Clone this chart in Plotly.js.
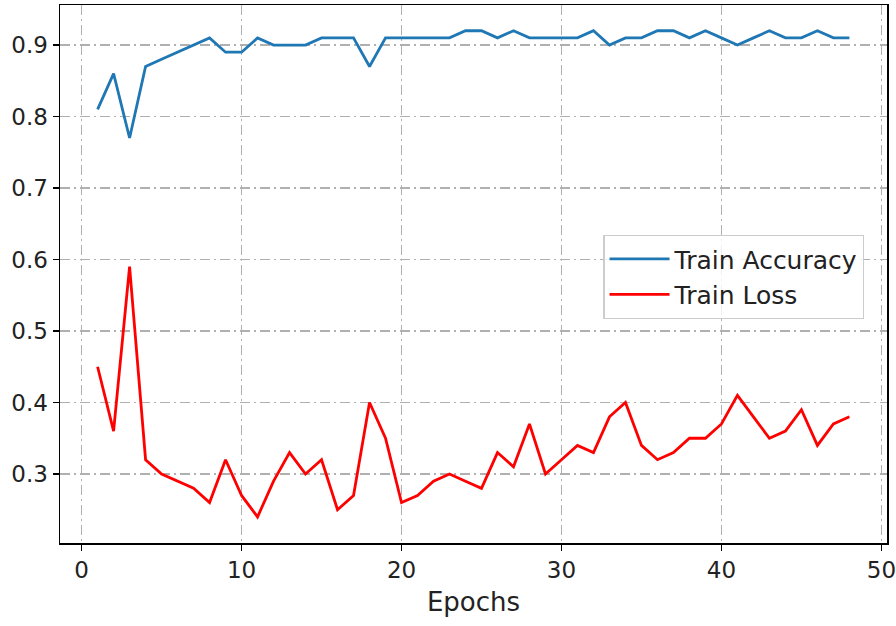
<!DOCTYPE html>
<html>
<head>
<meta charset="utf-8">
<script src="https://cdn.plot.ly/plotly-3.0.1.min.js"></script>
<style>
html,body{margin:0;padding:0;background:#fff;}
#chart{width:896px;height:626px;}
</style>
</head>
<body>
<div id="chart"></div>
<script>
const epochs = [1,2,3,4,5,6,7,8,9,10,11,12,13,14,15,16,17,18,19,20,21,22,23,24,25,26,27,28,29,30,31,32,33,34,35,36,37,38,39,40,41,42,43,44,45,46,47,48];
const trainAccuracy = [0.81,0.86,0.77,0.87,0.88,0.89,0.90,0.91,0.89,0.89,0.91,0.90,0.90,0.90,0.91,0.91,0.91,0.87,0.91,0.91,0.91,0.91,0.91,0.92,0.92,0.91,0.92,0.91,0.91,0.91,0.91,0.92,0.90,0.91,0.91,0.92,0.92,0.91,0.92,0.91,0.90,0.91,0.92,0.91,0.91,0.92,0.91,0.91];
const trainLoss = [0.45,0.36,0.59,0.32,0.30,0.29,0.28,0.26,0.32,0.27,0.24,0.29,0.33,0.30,0.32,0.25,0.27,0.40,0.35,0.26,0.27,0.29,0.30,0.29,0.28,0.33,0.31,0.37,0.30,0.32,0.34,0.33,0.38,0.40,0.34,0.32,0.33,0.35,0.35,0.37,0.41,0.38,0.35,0.36,0.39,0.34,0.37,0.38];
const xTicks = [0,10,20,30,40,50];
const yTicks = [0.3,0.4,0.5,0.6,0.7,0.8,0.9];
const seriesNames = ["Train Accuracy","Train Loss"];

const FONT = "DejaVu Sans, sans-serif";

const traces = [
  {x: epochs, y: trainAccuracy, name: seriesNames[0], mode: "lines",
   line: {color: "#1f77b4", width: 2.8}},
  {x: epochs, y: trainLoss, name: seriesNames[1], mode: "lines",
   line: {color: "#ff0000", width: 2.8}}
];

const axisCommon = {
  showline: true, mirror: true, linecolor: "#000", linewidth: 1.5,
  ticks: "outside", ticklen: 6, tickwidth: 1.3, tickcolor: "#000",
  showgrid: true, gridcolor: "#b0b0b0", gridwidth: 1.2, griddash: "10px,4px,2px,4px",
  zeroline: false, ticklabeloverflow: "allow",
  tickfont: {family: FONT, size: 23, color: "#222"}
};

const layout = {
  width: 896, height: 626,
  margin: {l: 60, r: 9, t: 5, b: 83},
  paper_bgcolor: "#fff", plot_bgcolor: "#fff",
  showlegend: true,
  legend: {
    x: 0.657, y: 0.5725, xanchor: "left", yanchor: "top",
    bgcolor: "rgba(255,255,255,0.8)", bordercolor: "#cccccc", borderwidth: 1.2,
    font: {family: FONT, size: 25, color: "#222"},
    itemwidth: 60,
    tracegroupgap: 0
  },
  xaxis: Object.assign({}, axisCommon, {
    range: [-1.35, 50.35], tickvals: xTicks, ticktext: xTicks.map(String),
    title: {text: "Epochs", font: {family: FONT, size: 26, color: "#222"}, standoff: 10}
  }),
  yaxis: Object.assign({}, axisCommon, {
    range: [0.2035, 0.956], tickvals: yTicks, ticktext: yTicks.map(v => v.toFixed(1))
  })
};

Plotly.newPlot("chart", traces, layout, {displayModeBar: false, staticPlot: true});
</script>
</body>
</html>
